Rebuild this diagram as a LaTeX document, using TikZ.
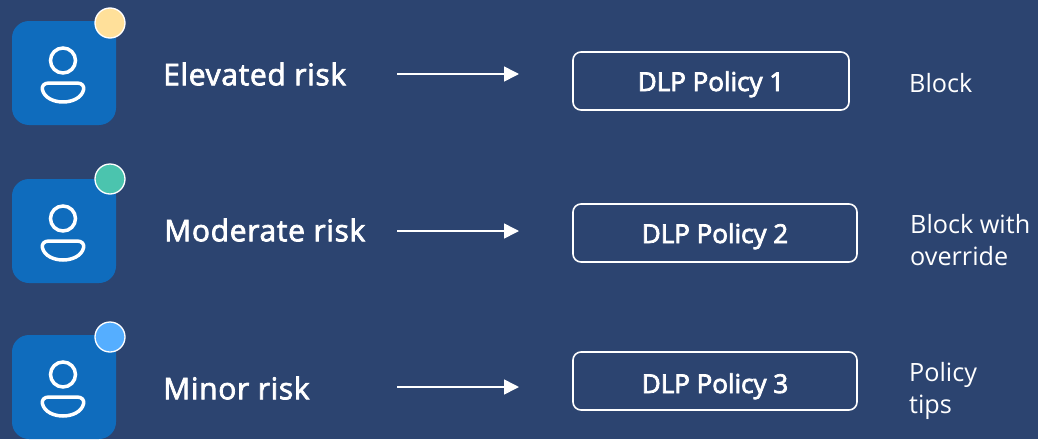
\documentclass[tikz,border=0pt]{standalone}
\usepackage{fontspec}
\setmainfont{Open Sans}
\newfontfamily\riskfont{Open Sans}[FakeBold=2.5,LetterSpace=2.2]
\newfontfamily\polfont{Open Sans}[FakeBold=3]
\usetikzlibrary{arrows.meta}
\definecolor{bgc}{HTML}{2C4470}
\definecolor{iconc}{HTML}{0F6CBD}
\definecolor{yel}{HTML}{FFE09A}
\definecolor{grn}{HTML}{4BC4AE}
\definecolor{blu}{HTML}{55AEFF}
\tikzset{
  x=1pt,y=-1pt,
  iconbox/.style={fill=iconc,draw=none,rounded corners=17pt},
  glyph/.style={draw=white,line width=3.5pt,fill=none},
  badge/.style={circle,draw=white,line width=1.3pt,minimum size=30pt,inner sep=0pt},
  risk/.style={text=white,anchor=base west,inner sep=0pt,font=\riskfont\fontsize{30}{36}\selectfont},
  policy/.style={draw=white,line width=1.6pt,rounded corners=8pt,text=white,inner sep=0pt,font=\polfont\fontsize{26}{30}\selectfont},
  action/.style={text=white,anchor=west,inner sep=0pt,align=left,font=\fontsize{25.2}{32}\selectfont},
  flow/.style={draw=white,line width=1.6pt,-{Triangle[length=15pt,width=15pt]}},
}
\newcommand{\usericon}[4]{%
  \fill[iconbox] (12,#1) rectangle (116,#1+104);
  \draw[glyph] (63,#1+39.5) circle (12.5);
  \draw[glyph,line join=round] (49,#1+62) -- (77,#1+62)
    .. controls (82,#1+62) and (84.5,#1+65) .. (83.5,#1+69)
    .. controls (81.5,#1+77) and (72,#1+81) .. (63,#1+81)
    .. controls (54,#1+81) and (44.5,#1+77) .. (42.5,#1+69)
    .. controls (41.5,#1+65) and (44,#1+62) .. (49,#1+62) -- cycle;
  \node[badge,fill=#3] (#2) at (110,#4) {};
}
\newcommand{\poltext}[2]{\raisebox{-#1pt}[0pt][0pt]{#2}}
\begin{document}
\begin{tikzpicture}
\fill[bgc] (0,0) rectangle (1038,439);
\useasboundingbox (0,0) rectangle (1038,439);
\usericon{21}{b1}{yel}{23}
\usericon{179}{b2}{grn}{179}
\usericon{335}{b3}{blu}{337}
\node[risk] (r1) at (163,85.3) {Elevated risk};
\node[risk] (r2) at (164,241.3) {Moderate risk};
\node[risk] (r3) at (163,399.3) {Minor risk};
\coordinate (s1) at (397,74); \coordinate (e1) at (519,74);
\coordinate (s2) at (397,231); \coordinate (e2) at (519,231);
\coordinate (s3) at (397,387); \coordinate (e3) at (519,387);
\draw[flow] (s1) -- (e1);
\draw[flow] (s2) -- (e2);
\draw[flow] (s3) -- (e3);
\node[policy,minimum width=276pt,minimum height=58pt] (p1) at (711,81) {\poltext{10}{DLP Policy 1}};
\node[policy,minimum width=284pt,minimum height=58pt] (p2) at (715,233) {\poltext{10}{DLP Policy 2}};
\node[policy,minimum width=284pt,minimum height=58pt] (p3) at (715,381) {\poltext{12}{DLP Policy 3}};
\node[action] (a1) at (909,83) {Block};
\node[action] (a2) at (910,240) {Block with\\override};
\node[action] (a3) at (909,391) {Policy\\tips};
\end{tikzpicture}
\end{document}
